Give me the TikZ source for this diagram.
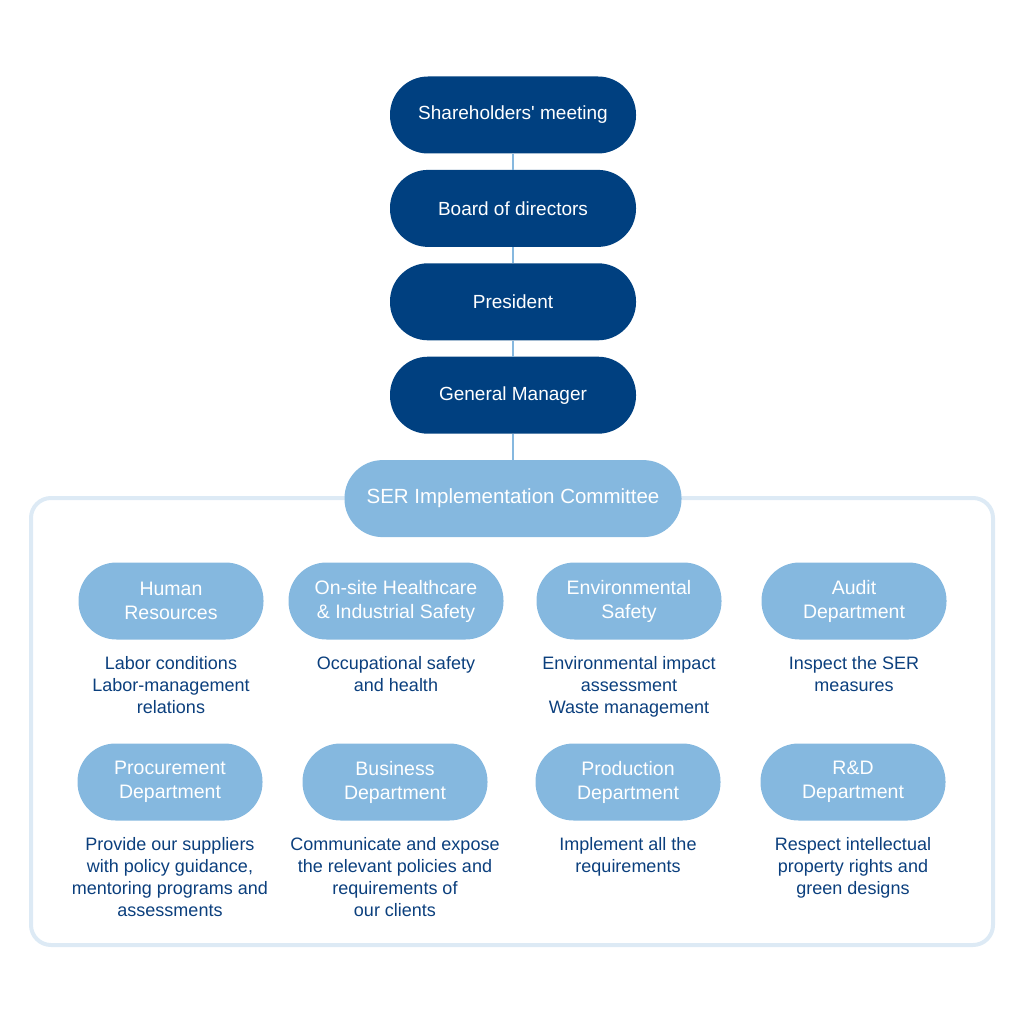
\documentclass[tikz,border=0pt]{standalone}
\usepackage{fontspec}
\setmainfont{Liberation Sans}
\usetikzlibrary{positioning}
\definecolor{navy}{HTML}{004080}
\definecolor{skyblue}{HTML}{85B8DF}
\definecolor{framegray}{HTML}{DDEAF5}
\definecolor{linkblue}{HTML}{86B8DF}
\definecolor{notetext}{HTML}{0B3F7D}

\begin{document}
\begin{tikzpicture}[x=1pt,y=1pt,
  topbox/.style={fill=navy,text=white,rounded corners=38pt,minimum width=246pt,minimum height=77pt,font=\fontsize{19}{24}\selectfont},
  deptbox/.style={fill=skyblue,text=white,rounded corners=38pt,minimum width=185pt,minimum height=77pt,align=center,font=\fontsize{19.5}{24}\selectfont},
  note/.style={text=notetext,align=center,inner sep=0pt,font=\fontsize{18}{22}\selectfont},
  link/.style={draw=linkblue,line width=2pt}]
  \useasboundingbox (0,0) rectangle (1024,-1024);
  \draw[framegray,line width=4pt,rounded corners=20pt] (31,-498) rectangle (993,-945); % outer frame
  % chain of management
  \node[topbox] (share) at (513,-115) {Shareholders\textquotesingle\ meeting};
  \node[topbox,below=16pt of share] (board) {Board of directors};
  \node[topbox,below=16pt of board] (pres) {President};
  \node[topbox,below=16pt of pres] (gm) {General Manager};
  \node[deptbox,minimum width=337pt,font=\fontsize{20.5}{24}\selectfont,below=26pt of gm] (ser) {SER Implementation Committee};
  \draw[link] (share) -- (board);
  \draw[link] (board) -- (pres);
  \draw[link] (pres) -- (gm);
  \draw[link] (gm) -- (ser);
  % departments, first row
  \node[deptbox] (hr) at (171,-601) {Human\\Resources};
  \node[deptbox,minimum width=215pt] (ohs) at (396,-601) {On-site Healthcare\\\& Industrial Safety};
  \node[deptbox] (env) at (629,-601) {Environmental\\Safety};
  \node[deptbox] (audit) at (854,-601) {Audit\\Department};
  \node[note,below=17pt of hr] (hrnote) {Labor conditions\\Labor-management\\relations};
  \node[note,below=17pt of ohs] (ohsnote) {Occupational safety\\and health};
  \node[note,below=17pt of env] (envnote) {Environmental impact\\assessment\\Waste management};
  \node[note,below=17pt of audit] (auditnote) {Inspect the SER\\measures};
  % departments, second row
  \node[deptbox] (proc) at (170,-782) {Procurement\\Department};
  \node[deptbox] (biz) at (395,-782) {Business\\Department};
  \node[deptbox] (prod) at (628,-782) {Production\\Department};
  \node[deptbox] (rd) at (853,-782) {R\&D\\Department};
  \node[note,below=17pt of proc] (procnote) {Provide our suppliers\\with policy guidance,\\mentoring programs and\\assessments};
  \node[note,below=17pt of biz] (biznote) {Communicate and expose\\the relevant policies and\\requirements of\\our clients};
  \node[note,below=17pt of prod] (prodnote) {Implement all the\\requirements};
  \node[note,below=17pt of rd] (rdnote) {Respect intellectual\\property rights and\\green designs};
\end{tikzpicture}
\end{document}
